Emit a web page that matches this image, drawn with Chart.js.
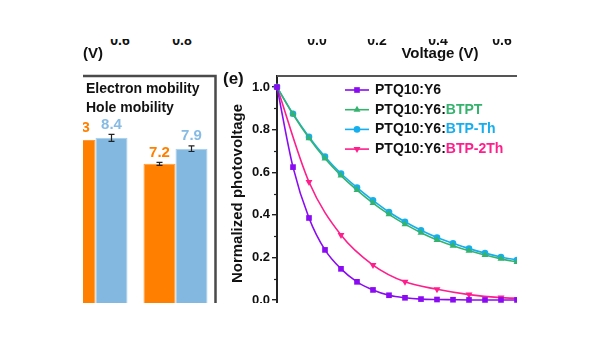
<!DOCTYPE html>
<html><head><meta charset="utf-8">
<script src="https://cdn.jsdelivr.net/npm/chart.js@4.4.0/dist/chart.umd.min.js"></script>
<style>
html,body{margin:0;padding:0;background:#fff;width:600px;height:338px;overflow:hidden}
#crop{position:absolute;left:83px;top:39px;width:434px;height:264px;overflow:hidden;background:#fff}
canvas{position:absolute}
.t{position:absolute;font-family:"Liberation Sans",Arial,sans-serif;font-weight:bold;color:#111;white-space:nowrap;line-height:1}
</style></head><body>
<div id="crop">
<canvas id="bar" width="240" height="280" style="left:-83px;top:21px;width:240px;height:280px"></canvas>
<canvas id="line" width="360" height="270" style="left:117px;top:21px;width:360px;height:270px"></canvas>
</div>
<script>
// ---------- data ----------
const upperLeftTicks = ['0.6', '0.8'];
const upperRightTicks = ['0.0', '0.2', '0.4', '0.6'];
const upperAxisTitle = 'Voltage (V)';

const barGroups = ['group 1', 'group 2'];
const electronMobility = [8.3, 7.2];
const holeMobility = [8.4, 7.9];
const electronErr = [0.10, 0.07];
const holeErr = [0.16, 0.13];

const steps = [0, 1, 2, 3, 4, 5, 6, 7, 8, 9, 10, 11, 12, 13, 14, 15];
const pvY6 = [1.0, 0.624, 0.385, 0.235, 0.146, 0.085, 0.047, 0.022, 0.010, 0.004, 0.002, 0.001, 0.0, 0.0, 0.0, 0.0];
const pvBTPT = [1.0, 0.872, 0.760, 0.664, 0.584, 0.516, 0.455, 0.402, 0.356, 0.316, 0.282, 0.255, 0.231, 0.211, 0.193, 0.178];
const pvBTPTh = [1.0, 0.875, 0.766, 0.673, 0.594, 0.528, 0.468, 0.413, 0.367, 0.327, 0.293, 0.266, 0.241, 0.220, 0.202, 0.187];
const steps2Th = [0, 2, 4, 6, 8, 10, 12, 14, 16];
const pvBTP2Th = [1.0, 0.554, 0.305, 0.164, 0.085, 0.050, 0.025, 0.011, 0.006];
const seriesLabels = ['PTQ10:Y6', 'PTQ10:Y6:BTPT', 'PTQ10:Y6:BTP-Th', 'PTQ10:Y6:BTP-2Th'];

// ---------- helpers ----------
const FONT = '"Liberation Sans", Arial, sans-serif';
const CROP_X = 83, CROP_Y = 39;
const crop = document.getElementById('crop');
function addText(str, x, baseline, size, align) {
  const d = document.createElement('div');
  d.className = 't';
  d.textContent = str;
  d.style.fontSize = size + 'px';
  d.style.top = (baseline - CROP_Y - 0.8465 * size) + 'px';
  d.style.left = (x - CROP_X) + 'px';
  if (align === 'center') d.style.transform = 'translateX(-50%)';
  crop.appendChild(d);
}
// cut-off labels belonging to panels above
[120, 182].forEach((x, i) => addText(upperLeftTicks[i], x, 45, 14, 'center'));
addText('(V)', 83, 58, 15, 'left');
[317, 377, 438, 502].forEach((x, i) => addText(upperRightTicks[i], x, 45, 14, 'center'));
addText(upperAxisTitle, 440, 58, 15, 'center');
addText('(e)', 223, 84, 17, 'left');

// ---------- left: bar chart ----------
const barColors = ['#FF8000', '#83B9E1'];
const barLabelColors = ['#FF8000', '#86BBE4'];
const barErrs = [electronErr, holeErr];
const barExtras = {
  id: 'barExtras',
  afterDatasetsDraw(chart) {
    const ctx = chart.ctx, a = chart.chartArea, ys = chart.scales.y;
    ctx.save();
    chart.data.datasets.forEach((ds, di) => {
      const meta = chart.getDatasetMeta(di);
      meta.data.forEach((el, i) => {
        const v = ds.data[i], e = barErrs[di][i];
        const yT = ys.getPixelForValue(v + e), yB = ys.getPixelForValue(v - e);
        ctx.strokeStyle = '#222'; ctx.lineWidth = 1.2;
        ctx.beginPath();
        ctx.moveTo(el.x, yT); ctx.lineTo(el.x, yB);
        ctx.moveTo(el.x - 3, yT); ctx.lineTo(el.x + 3, yT);
        ctx.moveTo(el.x - 3, yB); ctx.lineTo(el.x + 3, yB);
        ctx.stroke();
        ctx.fillStyle = barLabelColors[di];
        ctx.font = 'bold 15px ' + FONT;
        ctx.textAlign = 'center'; ctx.textBaseline = 'bottom';
        ctx.fillText(v.toFixed(1), el.x, yT - 2);
      });
    });
    // legend text
    ctx.fillStyle = '#111'; ctx.font = 'bold 14px ' + FONT;
    ctx.textAlign = 'left'; ctx.textBaseline = 'middle';
    chart.data.datasets.forEach((ds, di) => ctx.fillText(ds.label, a.left + 30.5, a.top + 13 + di * 19));
    // frame
    ctx.strokeStyle = '#4a4a4a'; ctx.lineWidth = 2.5;
    ctx.beginPath();
    ctx.moveTo(a.left, a.top); ctx.lineTo(a.right, a.top); ctx.lineTo(a.right, a.bottom);
    ctx.stroke();
    ctx.restore();
  }
};
new Chart(document.getElementById('bar'), {
  type: 'bar',
  data: {
    labels: barGroups,
    datasets: [
      { label: 'Electron mobility', data: electronMobility, backgroundColor: barColors[0], borderColor: '#FF9A3A', borderWidth: 1 },
      { label: 'Hole mobility', data: holeMobility, backgroundColor: barColors[1], borderColor: '#A8CEEC', borderWidth: 1 }
    ]
  },
  options: {
    responsive: false, animation: false, events: [],
    layout: { padding: { left: 55.5, right: 24.5, top: 16, bottom: 20 } },
    datasets: { bar: { categoryPercentage: 0.8, barPercentage: 1.0 } },
    scales: { x: { display: false }, y: { display: false, min: 0, max: 11.25 } },
    plugins: { legend: { display: false }, tooltip: { enabled: false } }
  },
  plugins: [barExtras]
});

// ---------- right: line chart ----------
const lineColors = ['#8A0BF2', '#35B36E', '#15AEEE', '#FF1E8C'];
const pointStyles = ['rect', 'triangle', 'circle', 'triangle'];
const pointRots = [0, 0, 0, 180];
const pointRadii = [4, 4, 3.3, 4];
function xy(xs, ys) { return xs.map((x, i) => ({ x: x, y: ys[i] })); }
const seriesData = [xy(steps, pvY6), xy(steps, pvBTPT), xy(steps, pvBTPTh), xy(steps2Th, pvBTP2Th)];

function drawMarker(ctx, style, r, rot, x, y) {
  ctx.beginPath();
  if (style === 'rect') {
    const s = r * Math.SQRT1_2;
    ctx.rect(x - s, y - s, 2 * s, 2 * s);
  } else if (style === 'circle') {
    ctx.arc(x, y, r, 0, Math.PI * 2);
  } else {
    const rad = rot * Math.PI / 180;
    for (let k = 0; k < 3; k++) {
      const ang = rad + k * 2 * Math.PI / 3 - Math.PI / 2;
      const px = x + Math.cos(ang) * r, py = y + Math.sin(ang) * r;
      if (k === 0) ctx.moveTo(px, py); else ctx.lineTo(px, py);
    }
    ctx.closePath();
  }
  ctx.fill();
}
const lineExtras = {
  id: 'lineExtras',
  beforeDatasetsDraw(chart) {
    const ctx = chart.ctx, a = chart.chartArea, ys = chart.scales.y;
    ctx.save();
    ctx.strokeStyle = '#555'; ctx.lineWidth = 2;
    ctx.beginPath(); ctx.moveTo(a.left, a.top); ctx.lineTo(a.right + 5, a.top); ctx.stroke();
    ctx.strokeStyle = '#222'; ctx.lineWidth = 1.2;
    [0.1, 0.3, 0.5, 0.7, 0.9].forEach(v => {
      const y = Math.round(ys.getPixelForValue(v)) + 0.5;
      ctx.beginPath(); ctx.moveTo(a.left - 3, y); ctx.lineTo(a.left, y); ctx.stroke();
    });
    ctx.restore();
  },
  afterDatasetsDraw(chart) {
    const ctx = chart.ctx, a = chart.chartArea;
    ctx.save();
    seriesLabels.forEach((lab, i) => {
      const y = a.top + 14 + i * 19.7;
      ctx.strokeStyle = lineColors[i]; ctx.lineWidth = 1.6;
      ctx.beginPath(); ctx.moveTo(a.left + 68, y); ctx.lineTo(a.left + 92, y); ctx.stroke();
      ctx.fillStyle = lineColors[i];
      drawMarker(ctx, pointStyles[i], pointRadii[i], pointRots[i], a.left + 80, y);
      const parts = lab.split(':');
      const base = parts.slice(0, 2).join(':') + (parts.length > 2 ? ':' : '');
      const suf = parts.length > 2 ? parts[2] : '';
      ctx.font = 'bold 14px ' + FONT; ctx.textBaseline = 'middle'; ctx.textAlign = 'left';
      ctx.fillStyle = '#111';
      ctx.fillText(base, a.left + 98, y);
      if (suf) {
        ctx.fillStyle = lineColors[i];
        ctx.fillText(suf, a.left + 98 + ctx.measureText(base).width, y);
      }
    });
    ctx.restore();
  }
};
new Chart(document.getElementById('line'), {
  type: 'line',
  data: {
    datasets: seriesLabels.map((lab, i) => ({
      label: lab, data: seriesData[i],
      borderColor: lineColors[i], backgroundColor: lineColors[i],
      borderWidth: 1.6, cubicInterpolationMode: 'monotone',
      pointStyle: pointStyles[i], pointRotation: pointRots[i], pointRadius: pointRadii[i],
      pointBorderWidth: 0, clip: false
    }))
  },
  options: {
    responsive: false, animation: false, events: [],
    layout: { padding: { left: 0, top: 16, right: 27, bottom: 19 } },
    plugins: { legend: { display: false }, tooltip: { enabled: false } },
    scales: {
      x: { type: 'linear', min: 0, max: 16, display: false },
      y: {
        min: -0.052, max: 1.052,
        afterFit(s) { s.width = 77; },
        ticks: { stepSize: 0.2, includeBounds: false, color: '#111', padding: 2,
          font: { family: FONT, weight: 'bold', size: 13 }, callback: v => v.toFixed(1) },
        grid: { drawOnChartArea: false, tickLength: 5, color: '#222', lineWidth: 1.4 },
        border: { display: true, color: '#222', width: 2 },
        title: { display: true, text: 'Normalized photovoltage', color: '#111',
          font: { family: FONT, weight: 'bold', size: 15 }, padding: { top: 29, bottom: 0 } }
      }
    }
  },
  plugins: [lineExtras]
});
</script>
</body></html>
